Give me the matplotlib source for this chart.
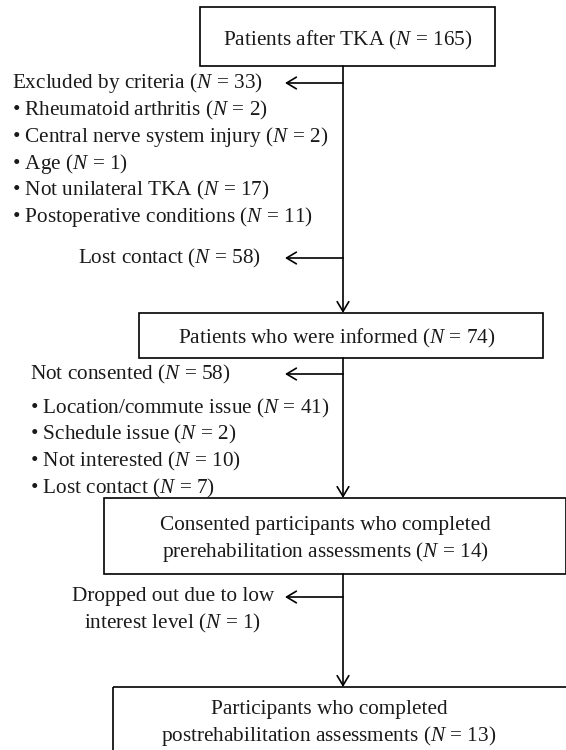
import matplotlib
matplotlib.use("Agg")
import matplotlib.pyplot as plt
from matplotlib.patches import Rectangle

plt.rcParams['font.family'] = ['Liberation Serif', 'DejaVu Serif']
plt.rcParams['mathtext.fontset'] = 'custom'
plt.rcParams['mathtext.rm'] = 'Liberation Serif'
plt.rcParams['mathtext.it'] = 'Liberation Serif:italic'

# ---- data ----
stage_labels = ["Patients after TKA",
                "Patients who were informed",
                "Consented participants who completed\nprerehabilitation assessments",
                "Participants who completed\npostrehabilitation assessments"]
stage_n = [165, 74, 14, 13]

excluded_title = "Excluded by criteria"
excluded_n = 33
excluded_reasons = ["Rheumatoid arthritis", "Central nerve system injury", "Age",
                    "Not unilateral TKA", "Postoperative conditions"]
excluded_counts = [2, 2, 1, 17, 11]

lost_label = "Lost contact"
lost_n = 58

notcons_title = "Not consented"
notcons_n = 58
notcons_reasons = ["Location/commute issue", "Schedule issue", "Not interested", "Lost contact"]
notcons_counts = [41, 2, 10, 7]

dropped_label = "Dropped out due to low\ninterest level"
dropped_n = 1

# ---- layout ----
W, H = 566, 750
fig = plt.figure(figsize=(W / 100, H / 100), dpi=100)
ax = fig.add_axes([0, 0, 1, 1])
ax.set_xlim(0, W)
ax.set_ylim(H, 0)
ax.axis('off')

FS = 15.3
LW = 1.2
XC = 343  # main vertical line
tc = '#1a1a1a'


def ntext(label, n):
    return f"{label} ($N$ = {n})"


boxes = [  # x0, y0, x1, y1, text center x, text center y
    (200, 7, 495, 66, 348, 40),
    (139, 313, 543, 358, 337, 338),
    (104, 498, 566, 574, 325, 540),
    (113, 687, 580, 770, 329, 724),
]
for (x0, y0, x1, y1, tx, ty), lab, n in zip(boxes, stage_labels, stage_n):
    ax.add_patch(Rectangle((x0, y0), x1 - x0, y1 - y0, fill=False, lw=LW, ec='black'))
    lines = lab.split("\n")
    lines[-1] = ntext(lines[-1], n)
    ax.text(tx, ty, "\n".join(lines), ha='center', va='center', fontsize=FS,
            linespacing=1.35, color=tc)


def arrow(x0, y0, x1, y1):
    ax.annotate("", xy=(x1, y1), xytext=(x0, y0),
                arrowprops=dict(arrowstyle='->,head_length=0.5,head_width=0.3', lw=LW,
                                color='black', shrinkA=0, shrinkB=0, mutation_scale=14))


arrow(XC, 66, XC, 313)
arrow(XC, 358, XC, 498)
arrow(XC, 574, XC, 687)

XT = 285
for y in (83, 258, 374, 597):
    arrow(XC, y, XT, y)

ax.text(12, 83, ntext(excluded_title, excluded_n), ha='left', va='center', fontsize=FS, color=tc)
for i, (r, c) in enumerate(zip(excluded_reasons, excluded_counts)):
    ax.text(12, 110 + i * 26.8, "\u2022 " + ntext(r, c), ha='left', va='center', fontsize=FS, color=tc)

ax.text(78, 258, ntext(lost_label, lost_n), ha='left', va='center', fontsize=FS, color=tc)

ax.text(30, 374, ntext(notcons_title, notcons_n), ha='left', va='center', fontsize=FS, color=tc)
for i, (r, c) in enumerate(zip(notcons_reasons, notcons_counts)):
    ax.text(30, 408 + i * 26.7, "\u2022 " + ntext(r, c), ha='left', va='center', fontsize=FS, color=tc)

d1, d2 = dropped_label.split("\n")
ax.text(72, 597, d1, ha='left', va='center', fontsize=FS, color=tc)
ax.text(84, 623, ntext(d2, dropped_n), ha='left', va='center', fontsize=FS, color=tc)

fig.savefig("out.png", dpi=100, facecolor='white')
